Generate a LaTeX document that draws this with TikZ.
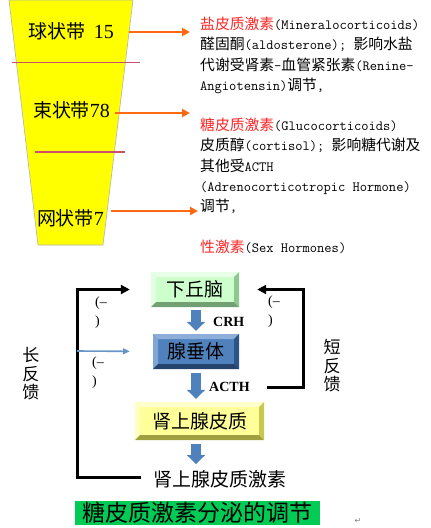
\documentclass[tikz,border=0pt]{standalone}
\usepackage{fontspec}
\setmainfont{Liberation Serif}
\newfontfamily\cjk{Noto Sans CJK SC}
\newfontfamily\symfont{DejaVu Sans}
\usetikzlibrary{arrows.meta}

\definecolor{zoneyellow}{HTML}{FFFF00}
\definecolor{zonered}{HTML}{C8506E}
\definecolor{zoneorange}{HTML}{FF6A10}
\definecolor{hormred}{HTML}{FF2626}
\definecolor{hypfill}{HTML}{CCFFCC}
\definecolor{hyplight}{HTML}{E6FFE6}
\definecolor{hypdark}{HTML}{8FC88F}
\definecolor{pitfill}{HTML}{4F81BD}
\definecolor{pitlight}{HTML}{8EAEDA}
\definecolor{pitdark}{HTML}{2C5487}
\definecolor{adrfill}{HTML}{FFFF99}
\definecolor{adrlight}{HTML}{FFFFCC}
\definecolor{adrdark}{HTML}{C8C850}
\definecolor{titlegreen}{HTML}{00CC55}
\definecolor{flowblue}{HTML}{4F81BD}

\newcommand\zh[1]{{\cjk\fontsize{14.8}{20.3}\selectfont #1}}
\newcommand\hl[1]{\textcolor{hormred}{\zh{#1}}}
\newcommand\bb{path picture bounding box}

\tikzset{
  zone/.style={inner sep=0, font=\fontsize{20}{20}\selectfont},
  zoneline/.style={zonered, line width=1.1pt},
  zonearrow/.style={zoneorange, line width=2pt, -{Triangle[width=8pt,length=8pt]}},
  desc/.style={inner sep=0, align=left, anchor=north west,
    font=\ttfamily\fontsize{14.1}{20.3}\selectfont},
  bevelbox/.style n args={3}{fill=#1, inner sep=0, path picture={
    \fill[#2] (\bb.north west) -- (\bb.north east) -- ([shift={(-5pt,-5pt)}]\bb.north east)
      -- ([shift={(5pt,-5pt)}]\bb.north west) -- cycle;
    \fill[#2!80!#1] (\bb.north west) -- ([shift={(5pt,-5pt)}]\bb.north west)
      -- ([shift={(5pt,5pt)}]\bb.south west) -- (\bb.south west) -- cycle;
    \fill[#3] (\bb.north east) -- (\bb.south east) -- ([shift={(-5pt,5pt)}]\bb.south east)
      -- ([shift={(-5pt,-5pt)}]\bb.north east) -- cycle;
    \fill[#3!80!black] (\bb.south west) -- (\bb.south east) -- ([shift={(-5pt,5pt)}]\bb.south east)
      -- ([shift={(5pt,5pt)}]\bb.south west) -- cycle;
  }},
  boxtext/.style={font=\cjk\fontsize{19}{19}\selectfont},
  flow/.style={flowblue, line width=10pt, -{Triangle[width=18pt,length=9pt]}},
  flowlabel/.style={inner sep=0, font=\bfseries\fontsize{14}{14}\selectfont},
  fbline/.style={black, line width=3pt, -{Triangle[width=9pt,length=9pt]}},
  fbthin/.style={flowblue!85!white, line width=1.6pt, -{Triangle[width=6pt,length=7pt]}},
  neg/.style={inner sep=0, align=left, anchor=north west, font=\fontsize{14}{19}\selectfont},
  fbname/.style={inner sep=0, align=center, font=\cjk\fontsize{17}{18.5}\selectfont},
}

\begin{document}
\begin{tikzpicture}[x=1pt, y=-1pt]
\useasboundingbox (0,0) rectangle (431,528);
% adrenal cortex zones
\filldraw[fill=zoneyellow, draw=gray!60, line width=0.6pt] (9,0) -- (133,0) -- (103,245) -- (38,245) -- cycle;
\draw[zoneline] (12,62.7) -- (140,62.7);
\draw[zoneline] (35,152) -- (125,152);
\node[zone] (glom) at (71,31) {{\cjk\fontsize{19}{19}\selectfont 球状带}\hspace{9pt}15};
\node[zone] (fasc) at (71.5,110) {{\cjk\fontsize{19}{19}\selectfont 束状带}78};
\node[zone] (retic) at (70.5,218) {{\cjk\fontsize{19}{19}\selectfont 网状带}7};
\coordinate (e1) at (190,32);
\coordinate (e2) at (190,113);
\coordinate (e3) at (198,211);
\draw[zonearrow, shorten <=15pt] (glom.east |- e1) -- (e1);
\draw[zonearrow, shorten <=5pt] (fasc.east |- e2) -- (e2);
\draw[zonearrow, shorten <=7pt] (retic.east |- e3) -- (e3);
% hormones
\node[desc] (mineral) at (200,17) {\hl{盐皮质激素}(Mineralocorticoids)\\
  \zh{醛固酮}(aldosterone); \zh{影响水盐}\\
  \zh{代谢受肾素}-\zh{血管紧张素}(Renine-\\
  Angiotensin)\zh{调节},};
\node[desc] (gluco) at (200,118) {\hl{糖皮质激素}(Glucocorticoids)\\
  \zh{皮质醇}(cortisol); \zh{影响糖代谢及}\\
  \zh{其他受}ACTH\\
  (Adrenocorticotropic Hormone)\\
  \zh{调节},};
\node[desc] (sex) at (200,240) {\hl{性激素}(Sex Hormones)};
% regulation axis
\node[bevelbox={hypfill}{hyplight}{hypdark}, minimum width=88pt, minimum height=35pt, boxtext] (hyp) at (195,289.5) {下丘脑};
\node[bevelbox={pitfill}{pitlight}{pitdark}, minimum width=86pt, minimum height=35pt, boxtext] (pit) at (196,351.5) {腺垂体};
\node[bevelbox={adrfill}{adrlight}{adrdark}, minimum width=129pt, minimum height=38pt, boxtext] (adr) at (199.5,421) {肾上腺皮质};
\node[inner sep=0, boxtext] (horm) at (220,479) {肾上腺皮质激素};
\draw[flow, shorten <=3pt, shorten >=3pt] (hyp.south -| 196,0) -- (pit.north);
\draw[flow, shorten <=4pt, shorten >=3pt] (pit.south) -- (pit.south |- adr.north);
\draw[flow, shorten <=4pt, shorten >=6pt] (adr.south -| pit.south) -- (horm.north -| pit.south);
\node[flowlabel, anchor=west] (crh) at (213,322) {CRH};
\node[flowlabel, anchor=west] (acth) at (209,387) {ACTH};
% feedback loops
\coordinate (lb) at (77,477);
\coordinate (lm) at (77,351);
\coordinate (rb) at (303,387);
\draw[fbline, shorten <=12pt, shorten >=21pt] (horm.west |- lb) -- (lb) |- (hyp.west);
\draw[fbthin, shorten >=23pt] (lm) -- (pit.west);
\draw[fbline, shorten <=17pt, shorten >=18pt] (acth.east) -- (rb) |- (hyp.east);
\node[neg] (n1) at (95,297) {(–\\)};
\node[neg] (n2) at (92,357) {(–\\)};
\node[neg] (n3) at (268,296) {(–\\)};
\node[fbname] (longfb) at (31,374) {长\\反\\馈};
\node[fbname] (shortfb) at (332,366) {短\\反\\馈};
% caption
\node[fill=titlegreen, minimum width=245pt, minimum height=24pt, inner sep=0,
  font=\cjk\fontsize{23}{23}\selectfont] (title) at (197.5,513) {糖皮质激素分泌的调节};
\node[inner sep=0, text=gray, font=\symfont\fontsize{8}{8}\selectfont] (mark) at (358,521) {↵};
\end{tikzpicture}
\end{document}
